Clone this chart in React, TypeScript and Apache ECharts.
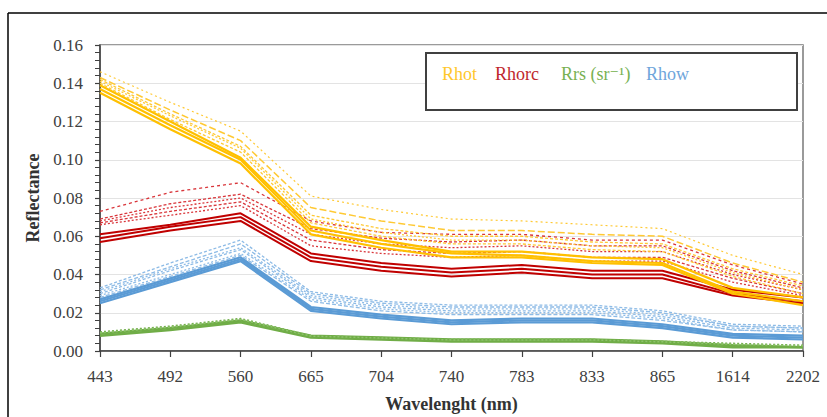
import React, { useEffect, useRef } from "react";
import * as echarts from "echarts";

const categories = ["443", "492", "560", "665", "704", "740", "783", "833", "865", "1614", "2202"];
const yTicks = [0, 0.02, 0.04, 0.06, 0.08, 0.1, 0.12, 0.14, 0.16];

// Rhot (yellow)
const rhotSolid1 = [0.139, 0.120, 0.101, 0.065, 0.058, 0.052, 0.052, 0.049, 0.048, 0.033, 0.028];
const rhotSolid2 = [0.137, 0.118, 0.100, 0.063, 0.056, 0.051, 0.050, 0.047, 0.046, 0.031, 0.026];
const rhotSolid3 = [0.135, 0.116, 0.098, 0.061, 0.054, 0.049, 0.049, 0.046, 0.045, 0.030, 0.024];
const rhotDash1 = [0.146, 0.130, 0.115, 0.081, 0.074, 0.069, 0.068, 0.066, 0.064, 0.050, 0.040];
const rhotDash2 = [0.143, 0.126, 0.110, 0.075, 0.068, 0.063, 0.063, 0.061, 0.060, 0.046, 0.036];
const rhotDash3 = [0.142, 0.124, 0.107, 0.071, 0.064, 0.060, 0.060, 0.057, 0.056, 0.043, 0.034];
const rhotDash4 = [0.141, 0.123, 0.106, 0.069, 0.062, 0.058, 0.058, 0.055, 0.054, 0.041, 0.032];
const rhotDash5 = [0.140, 0.121, 0.104, 0.067, 0.060, 0.056, 0.056, 0.053, 0.052, 0.039, 0.030];

// Rhorc (red)
const rhorcSolid1 = [0.061, 0.066, 0.072, 0.051, 0.046, 0.043, 0.045, 0.042, 0.042, 0.032, 0.028];
const rhorcSolid2 = [0.059, 0.065, 0.070, 0.049, 0.044, 0.041, 0.043, 0.040, 0.040, 0.030, 0.026];
const rhorcSolid3 = [0.057, 0.063, 0.068, 0.047, 0.042, 0.039, 0.041, 0.038, 0.038, 0.029, 0.025];
const rhorcDash1 = [0.073, 0.083, 0.088, 0.068, 0.062, 0.061, 0.061, 0.058, 0.058, 0.045, 0.035];
const rhorcDash2 = [0.069, 0.077, 0.082, 0.064, 0.059, 0.057, 0.058, 0.055, 0.055, 0.042, 0.033];
const rhorcDash3 = [0.068, 0.075, 0.080, 0.061, 0.056, 0.054, 0.055, 0.052, 0.052, 0.040, 0.032];
const rhorcDash4 = [0.067, 0.073, 0.078, 0.058, 0.053, 0.051, 0.052, 0.049, 0.049, 0.038, 0.030];
const rhorcDash5 = [0.066, 0.071, 0.076, 0.055, 0.051, 0.049, 0.050, 0.047, 0.047, 0.036, 0.029];

// Rhow (blue)
const rhowSolid1 = [0.027, 0.038, 0.049, 0.023, 0.019, 0.016, 0.017, 0.017, 0.014, 0.009, 0.008];
const rhowSolid2 = [0.026, 0.037, 0.048, 0.022, 0.018, 0.015, 0.016, 0.016, 0.013, 0.008, 0.007];
const rhowSolid3 = [0.025, 0.036, 0.047, 0.021, 0.017, 0.014, 0.015, 0.015, 0.012, 0.007, 0.006];
const rhowDash1 = [0.033, 0.046, 0.058, 0.031, 0.026, 0.024, 0.024, 0.024, 0.021, 0.014, 0.013];
const rhowDash2 = [0.032, 0.044, 0.056, 0.030, 0.025, 0.023, 0.023, 0.023, 0.020, 0.013, 0.012];
const rhowDash3 = [0.031, 0.043, 0.054, 0.029, 0.024, 0.022, 0.022, 0.022, 0.019, 0.013, 0.012];
const rhowDash4 = [0.030, 0.042, 0.053, 0.028, 0.023, 0.021, 0.021, 0.021, 0.018, 0.012, 0.011];
const rhowDash5 = [0.029, 0.040, 0.051, 0.027, 0.022, 0.020, 0.020, 0.020, 0.017, 0.011, 0.010];
const rhowDash6 = [0.028, 0.039, 0.050, 0.026, 0.021, 0.019, 0.019, 0.019, 0.016, 0.011, 0.010];

// Rrs (green)
const rrsSolid1 = [0.009, 0.012, 0.016, 0.008, 0.007, 0.006, 0.006, 0.006, 0.005, 0.003, 0.002];
const rrsSolid2 = [0.008, 0.011, 0.015, 0.007, 0.006, 0.005, 0.005, 0.005, 0.004, 0.002, 0.002];
const rrsDot1 = [0.010, 0.013, 0.017, 0.008, 0.007, 0.006, 0.006, 0.006, 0.005, 0.004, 0.003];
const rrsDot2 = [0.0095, 0.0125, 0.0165, 0.0078, 0.0068, 0.0058, 0.0058, 0.0058, 0.0048, 0.0035, 0.0028];

const legendItems = [
  { text: "Rhot", color: "#FFC72C", x: 442 },
  { text: "Rhorc", color: "#C0272D", x: 495 },
  { text: "Rrs (sr\u207B\u00B9)", color: "#78B152", x: 561 },
  { text: "Rhow", color: "#6FA6DB", x: 646 },
];

const FONT = "'Liberation Serif', 'DejaVu Serif', serif";

function line(name: string, data: number[], color: string, width: number, type: any, opacity = 1) {
  return {
    name,
    type: "line",
    data,
    symbol: "none",
    silent: true,
    lineStyle: { color, width, type, opacity },
    z: 2,
  };
}

export default function App() {
  const ref = useRef<HTMLDivElement>(null);
  useEffect(() => {
    if (!ref.current) return;
    const chart = echarts.init(ref.current, undefined, { renderer: "svg" });
    const Y = "#FFC000";
    const YD = "#FFC933";
    const R = "#C00000";
    const RD = "#D9363B";
    const B = "#5B9BD5";
    const BD = "#8DBBE6";
    const G = "#70AD47";
    const series: any[] = [
      line("Rrs", rrsSolid1, G, 2.5, "solid"),
      line("Rrs", rrsSolid2, G, 2.5, "solid"),
      line("Rrs", rrsDot1, G, 1.5, [2, 2]),
      line("Rrs", rrsDot2, "#8CC26A", 1.5, [2, 2]),
      line("Rhow", rhowDash1, BD, 1.3, [3, 2]),
      line("Rhow", rhowDash2, BD, 1.3, [4, 2]),
      line("Rhow", rhowDash3, BD, 1.3, [2, 2]),
      line("Rhow", rhowDash4, BD, 1.3, [3, 2]),
      line("Rhow", rhowDash5, BD, 1.3, [2, 2]),
      line("Rhow", rhowDash6, BD, 1.3, [4, 2]),
      line("Rhow", rhowSolid1, B, 2.2, "solid"),
      line("Rhow", rhowSolid2, B, 2.2, "solid"),
      line("Rhow", rhowSolid3, B, 2.2, "solid"),
      line("Rhorc", rhorcDash1, RD, 1.3, [3, 3]),
      line("Rhorc", rhorcDash2, RD, 1.3, [3, 2]),
      line("Rhorc", rhorcDash3, RD, 1.3, [2, 2]),
      line("Rhorc", rhorcDash4, RD, 1.3, [3, 2]),
      line("Rhorc", rhorcDash5, RD, 1.3, [2, 2]),
      line("Rhorc", rhorcSolid1, R, 2, "solid"),
      line("Rhorc", rhorcSolid2, R, 2, "solid"),
      line("Rhorc", rhorcSolid3, R, 2, "solid"),
      line("Rhot", rhotDash1, YD, 1.2, [2, 3]),
      line("Rhot", rhotDash2, YD, 1.5, [7, 3]),
      line("Rhot", rhotDash3, YD, 1.3, [3, 2]),
      line("Rhot", rhotDash4, YD, 1.3, [2, 2]),
      line("Rhot", rhotDash5, YD, 1.3, [3, 2]),
      line("Rhot", rhotSolid1, Y, 2.2, "solid"),
      line("Rhot", rhotSolid2, Y, 2.2, "solid"),
      line("Rhot", rhotSolid3, Y, 2.2, "solid"),
    ];

    const graphic: any[] = [
      { type: "line", shape: { x1: 8, y1: 13, x2: 827, y2: 13 }, style: { stroke: "#000", lineWidth: 1.5 }, z: 10 },
      { type: "line", shape: { x1: 8, y1: 13, x2: 8, y2: 417 }, style: { stroke: "#000", lineWidth: 1.5 }, z: 10 },
      {
        type: "rect",
        shape: { x: 426, y: 53, width: 371, height: 57 },
        style: { fill: "#fff", stroke: "#404040", lineWidth: 2 },
        z: 20,
      },
      ...legendItems.map((it) => ({
        type: "text",
        x: it.x,
        y: 74,
        z: 21,
        style: {
          text: it.text,
          fill: it.color,
          font: `18px ${FONT}`,
          textVerticalAlign: "middle",
          verticalAlign: "middle",
        },
      })),
    ];

    chart.setOption({
      animation: false,
      backgroundColor: "#fff",
      grid: {
        left: 100,
        right: 24,
        top: 45,
        bottom: 66,
        containLabel: false,
        outerBoundsMode: "none",
        show: true,
        borderColor: "#7a7a7a",
        borderWidth: 1.5,
        backgroundColor: "transparent",
      },
      xAxis: {
        type: "category",
        data: categories,
        boundaryGap: false,
        name: "Wavelenght (nm)",
        nameLocation: "middle",
        nameGap: 44,
        nameTextStyle: { fontFamily: FONT, fontSize: 18, fontWeight: "bold", color: "#333" },
        axisLine: { lineStyle: { color: "#404040", width: 1.5 } },
        axisTick: { show: true, length: 6, alignWithLabel: true, lineStyle: { color: "#404040", width: 1.2 } },
        axisLabel: { fontFamily: FONT, fontSize: 17, color: "#404040", margin: 17, interval: 0 },
        splitLine: { show: false },
      },
      yAxis: {
        type: "value",
        min: yTicks[0],
        max: yTicks[yTicks.length - 1],
        interval: 0.02,
        name: "Reflectance",
        nameLocation: "middle",
        nameGap: 56,
        nameTextStyle: { fontFamily: FONT, fontSize: 18, fontWeight: "bold", color: "#333" },
        axisLine: { show: true, lineStyle: { color: "#404040", width: 1.5 } },
        axisTick: { show: true, length: 5, lineStyle: { color: "#404040", width: 1.2 } },
        minorTick: { show: true, splitNumber: 5, length: 5, lineStyle: { color: "#404040", width: 1 } },
        axisLabel: {
          fontFamily: FONT,
          fontSize: 17,
          color: "#404040",
          margin: 17,
          formatter: (v: number) => v.toFixed(2),
        },
        splitLine: { show: true, lineStyle: { color: "#E3E3E3", width: 1 } },
      },
      series,
      graphic,
    });
    return () => chart.dispose();
  }, []);
  return <div ref={ref} style={{ position: "fixed", left: 0, top: 0, width: 827, height: 417 }} />;
}
